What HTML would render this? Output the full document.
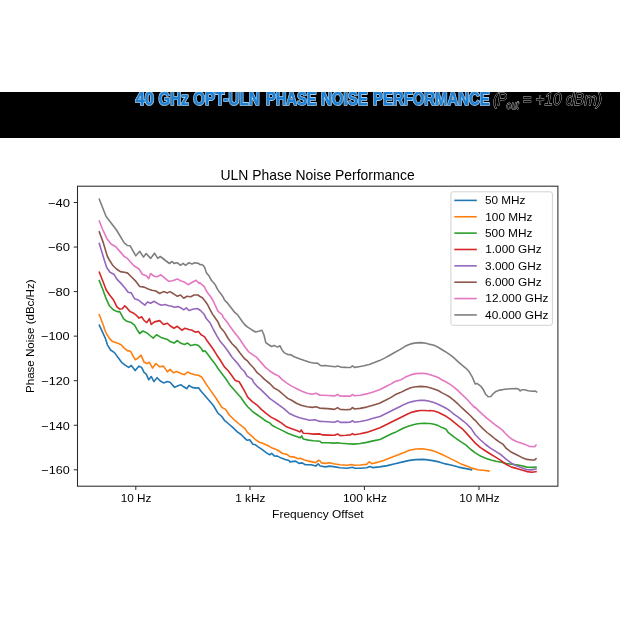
<!DOCTYPE html>
<html><head><meta charset="utf-8"><title>ULN Phase Noise Performance</title><style>
html,body{margin:0;padding:0;background:#fff;}
body{width:620px;height:620px;position:relative;overflow:hidden;font-family:"Liberation Sans",sans-serif;}
svg{position:absolute;left:0;top:0;display:block;will-change:transform;}
</style></head><body>
<svg width="620" height="620" viewBox="0 0 620 620">
<rect x="0" y="92" width="620" height="46" fill="#000"/>
<clipPath id="band"><rect x="0" y="92" width="620" height="46"/></clipPath>
<g clip-path="url(#band)" font-family="Liberation Sans">
<g font-weight="bold" font-size="17.6" fill="#dcebf8" stroke="#dcebf8" stroke-width="1.7" stroke-linejoin="round">
<text x="135.40" y="105.0" textLength="18.50" lengthAdjust="spacingAndGlyphs">40</text>
<text x="158.60" y="105.0" textLength="30.10" lengthAdjust="spacingAndGlyphs">GHz</text>
<text x="193.30" y="105.0" textLength="66.40" lengthAdjust="spacingAndGlyphs">OPT-ULN</text>
<text x="265.90" y="105.0" textLength="50.80" lengthAdjust="spacingAndGlyphs">PHASE</text>
<text x="320.90" y="105.0" textLength="47.00" lengthAdjust="spacingAndGlyphs">NOISE</text>
<text x="373.10" y="105.0" textLength="116.50" lengthAdjust="spacingAndGlyphs">PERFORMANCE</text>
</g>
<g font-weight="bold" font-size="17.6" fill="#1d7fd1" stroke="#1d7fd1" stroke-width="0.55" stroke-linejoin="round">
<text x="135.40" y="105.0" textLength="18.50" lengthAdjust="spacingAndGlyphs">40</text>
<text x="158.60" y="105.0" textLength="30.10" lengthAdjust="spacingAndGlyphs">GHz</text>
<text x="193.30" y="105.0" textLength="66.40" lengthAdjust="spacingAndGlyphs">OPT-ULN</text>
<text x="265.90" y="105.0" textLength="50.80" lengthAdjust="spacingAndGlyphs">PHASE</text>
<text x="320.90" y="105.0" textLength="47.00" lengthAdjust="spacingAndGlyphs">NOISE</text>
<text x="373.10" y="105.0" textLength="116.50" lengthAdjust="spacingAndGlyphs">PERFORMANCE</text>
</g>
<g font-style="italic" fill="#000" stroke="#c8c8c8" stroke-width="0.8" paint-order="stroke">
<text x="492.9" y="105.3" font-size="16.5" textLength="14" lengthAdjust="spacingAndGlyphs">(P</text>
<text x="506.6" y="109.0" font-size="10" textLength="12" lengthAdjust="spacingAndGlyphs">out</text>
<text x="522.5" y="105.3" font-size="16.5" textLength="79.5" lengthAdjust="spacingAndGlyphs">= +10 dBm)</text>
</g></g>
<g font-family="Liberation Sans" fill="#000">
<text id="title" x="220.50" y="179.80" font-size="14.30" textLength="194.20" lengthAdjust="spacingAndGlyphs">ULN Phase Noise Performance</text>
<g fill="none" stroke-width="1.60" stroke-linejoin="round" stroke-linecap="square">
<polyline stroke="#1f77b4" points="99.3,325.2 105.5,338.7 107.4,344.8 110.6,350.0 114.5,352.6 117.7,357.1 121.6,362.3 124.8,364.8 128.7,367.4 131.3,365.5 135.2,370.6 139.0,366.1 141.6,367.4 144.2,372.6 146.1,373.9 148.7,379.7 151.3,376.5 153.9,381.6 157.1,377.7 160.3,381.0 163.5,382.9 167.4,381.6 170.0,382.3 174.7,387.4 177.9,385.7 181.1,384.8 183.7,386.8 186.9,388.7 188.9,385.5 192.1,387.4 196.0,388.1 198.5,387.8 201.1,391.3 205.0,395.8 208.9,400.3 213.4,405.5 217.9,413.2 221.8,416.5 224.4,420.3 228.2,423.5 232.7,427.4 237.3,431.9 241.1,434.5 245.0,438.4 247.1,440.3 249.7,439.7 252.9,444.2 255.5,444.8 258.1,446.8 261.9,449.4 266.5,452.9 269.7,454.8 271.6,453.3 274.2,455.9 277.4,456.1 281.3,458.1 285.2,459.4 289.0,460.6 290.0,461.9 295.6,461.1 298.9,463.4 302.1,462.9 305.3,464.8 311.0,464.8 315.8,466.1 318.2,463.7 320.2,466.0 325.5,466.9 329.5,466.1 335.2,466.9 340.0,467.7 347.3,468.2 352.4,467.3 355.0,468.2 360.2,468.2 366.6,467.8 369.8,466.5 372.4,467.6 379.5,466.9 387.3,465.6 395.0,463.7 402.9,461.9 409.4,460.4 415.8,459.6 422.3,459.4 426.1,459.6 432.6,460.6 439.0,461.9 445.5,463.9 451.9,465.2 458.4,467.1 464.8,468.4 471.5,469.7"/>
<polyline stroke="#ff7f0e" points="99.3,314.8 103.5,325.8 104.8,330.0 106.8,334.5 108.1,336.1 109.4,338.4 112.6,341.6 117.1,342.9 121.0,344.8 124.2,348.1 127.4,350.6 130.6,351.3 132.6,355.2 135.2,359.7 137.7,358.4 141.0,355.2 144.2,362.3 146.8,363.5 149.4,362.3 152.6,368.1 155.8,363.5 159.7,366.8 163.5,366.1 167.4,371.9 170.0,369.4 173.4,372.7 176.6,371.5 181.1,373.4 184.4,374.7 187.6,372.1 190.8,373.4 194.7,374.7 198.5,375.3 201.8,377.3 204.4,381.1 206.3,384.4 212.1,392.6 216.6,399.0 221.8,407.4 225.6,409.4 229.5,415.2 233.4,419.0 238.5,423.5 245.0,428.7 247.7,432.6 251.6,435.8 255.5,439.7 259.4,442.3 263.2,443.5 267.7,445.5 272.3,448.1 277.4,450.0 282.6,453.5 286.5,454.2 290.0,456.7 294.0,456.9 298.1,458.7 300.5,458.3 304.5,459.9 308.5,461.1 312.6,461.9 315.8,462.6 318.2,460.3 320.2,461.1 321.5,462.9 325.5,463.4 329.5,462.7 333.5,463.7 340.0,464.8 347.3,465.3 351.8,464.6 354.4,465.3 360.2,465.0 366.6,464.4 369.2,461.8 371.8,463.7 376.9,462.4 383.4,460.5 389.8,457.9 395.0,456.0 402.9,452.9 409.4,450.3 415.8,449.0 422.3,448.8 428.7,449.7 435.2,451.6 441.6,454.2 448.1,457.4 454.5,460.6 461.0,463.9 466.1,465.8 472.7,468.4 477.9,469.7 483.1,470.3 488.9,471.0"/>
<polyline stroke="#2ca02c" points="99.3,280.6 102.9,289.7 106.1,298.7 109.4,305.8 113.2,309.7 117.1,311.6 119.7,311.6 123.5,318.7 126.8,321.3 131.3,322.6 134.5,325.2 137.1,329.7 139.7,333.5 142.9,331.0 146.8,332.9 150.0,335.5 153.2,338.1 156.5,334.8 161.0,337.4 167.4,339.4 170.0,341.6 174.0,343.1 177.3,340.5 180.5,343.1 184.4,344.4 187.6,343.1 190.8,345.6 195.3,344.4 198.5,345.6 201.1,348.2 203.1,351.5 205.0,350.8 207.6,354.0 210.8,358.5 214.0,362.4 217.9,368.2 221.8,373.4 225.6,378.5 229.5,384.4 236.0,391.9 241.1,397.7 245.0,403.5 247.7,406.8 252.3,411.3 256.8,414.5 261.3,417.7 265.8,421.0 269.7,422.9 272.3,425.5 277.4,428.1 282.6,430.6 287.7,433.2 292.9,435.2 298.1,437.1 300.6,437.7 301.7,435.8 303.2,439.0 308.4,440.1 313.5,440.7 320.0,441.2 321.5,442.7 327.9,442.8 334.4,443.1 337.6,442.8 340.8,443.3 347.3,443.7 353.7,444.1 360.2,443.5 366.6,442.4 373.1,440.9 380.0,439.5 384.0,437.5 388.1,435.5 392.1,433.5 396.1,431.9 400.2,429.8 404.2,427.8 408.2,426.2 412.3,425.0 416.3,424.0 420.3,423.5 424.4,423.4 428.4,423.5 430.0,423.5 434.0,424.2 438.1,425.6 442.1,427.6 446.1,429.2 448.1,432.3 454.5,437.4 461.0,441.9 466.1,445.2 470.2,449.0 475.3,452.9 480.5,456.1 485.6,458.3 490.8,460.0 496.0,461.3 501.1,462.3 506.3,463.5 511.5,464.3 516.6,464.9 521.8,465.8 526.9,467.1 532.1,467.4 536.0,467.1"/>
<polyline stroke="#d62728" points="99.3,272.3 102.9,281.3 106.1,289.7 109.4,294.8 113.2,299.4 117.1,307.1 119.7,309.0 122.3,308.8 124.8,305.8 127.4,308.4 130.0,311.6 133.2,312.9 135.8,314.8 139.0,318.1 141.6,316.8 144.2,320.6 146.8,322.6 149.4,318.7 151.3,324.5 154.5,321.9 159.7,320.6 163.5,324.5 167.4,323.2 170.0,325.8 174.0,328.2 177.3,326.3 181.8,330.2 185.0,328.2 188.9,329.5 192.1,330.2 195.3,332.1 198.5,331.5 201.1,334.7 204.4,336.6 206.9,340.5 210.2,345.0 213.4,349.5 216.6,354.7 220.5,360.5 224.4,366.9 228.2,370.8 232.1,376.0 235.3,380.5 239.2,381.8 241.1,385.0 242.4,387.4 245.0,391.9 247.7,397.1 252.3,401.6 256.8,404.8 261.3,409.4 265.8,413.2 271.0,417.1 276.1,419.7 281.3,422.9 286.5,426.8 291.6,428.7 296.8,430.6 300.0,431.9 301.3,430.0 303.2,433.2 308.4,433.5 313.5,434.1 320.0,433.9 322.7,434.9 327.9,435.1 334.4,435.3 337.6,434.0 340.2,435.6 346.0,435.3 350.5,434.9 352.4,433.6 354.4,434.7 360.2,433.8 366.6,432.4 373.1,430.2 380.0,427.8 384.0,425.8 388.1,423.8 392.1,421.8 396.1,419.8 400.2,417.7 404.2,415.7 408.2,413.7 412.3,412.1 416.3,411.1 420.3,410.5 424.4,410.5 428.4,410.7 430.0,410.5 434.0,411.0 438.1,412.3 442.1,414.3 446.1,416.3 450.2,419.1 454.2,422.3 458.2,425.6 462.3,428.8 466.1,432.9 470.2,437.4 475.3,443.2 480.5,447.7 485.6,451.0 490.8,454.2 496.0,457.4 501.1,460.6 506.3,464.5 511.5,467.1 516.6,468.4 521.8,469.9 526.9,471.6 532.1,472.3 536.0,471.6"/>
<polyline stroke="#9467bd" points="99.3,243.5 104.2,259.7 106.8,267.7 110.0,272.3 113.9,274.2 117.1,279.4 120.3,282.6 124.8,287.7 128.1,292.3 131.3,292.9 134.5,298.7 138.4,300.0 141.6,302.6 144.8,305.2 147.4,301.9 150.6,303.2 153.9,301.3 158.4,303.9 161.6,305.2 164.8,304.5 168.7,305.8 170.8,306.0 174.7,307.3 177.9,306.6 181.1,307.9 183.7,309.8 186.3,307.9 188.9,310.5 192.7,309.2 197.3,308.5 200.5,310.5 203.7,313.7 206.3,318.5 210.2,323.1 213.4,329.5 216.6,335.3 220.5,341.8 224.4,346.3 228.2,351.5 232.1,357.3 237.3,363.1 241.1,368.2 244.4,371.5 247.1,376.1 252.3,379.4 253.5,382.3 256.8,386.1 260.6,389.4 265.2,393.9 269.7,398.4 274.2,401.6 278.7,404.8 283.9,408.7 289.0,413.2 294.2,415.8 299.4,417.7 304.5,419.0 309.7,420.3 314.8,419.7 320.0,421.4 322.7,421.5 327.9,421.8 334.4,422.2 337.6,420.9 340.2,422.4 346.0,422.4 350.5,422.2 352.4,420.7 354.4,422.2 360.2,421.5 366.6,420.2 373.1,418.3 380.0,416.5 384.0,414.5 388.1,412.5 392.1,410.5 396.1,408.5 400.2,406.5 404.2,404.4 408.2,402.8 412.3,401.6 416.3,400.8 420.3,400.4 424.4,400.4 428.4,401.0 430.0,401.4 434.0,402.6 438.1,404.2 442.1,406.2 446.1,408.2 450.2,411.0 454.2,414.3 458.2,417.1 462.3,420.3 466.3,423.5 470.3,427.6 471.9,429.6 475.3,434.8 480.5,440.0 485.6,444.5 490.8,448.4 496.0,451.6 501.1,454.8 506.3,459.4 511.5,463.2 516.6,465.8 521.8,467.7 526.9,469.7 532.1,469.9 536.0,469.0"/>
<polyline stroke="#8c564b" points="99.3,231.9 102.9,241.6 107.4,256.5 109.4,260.0 112.6,265.2 116.5,269.0 120.3,271.6 124.2,272.3 127.4,272.9 131.3,276.8 135.2,280.6 139.7,286.5 144.2,287.1 148.1,289.0 151.9,290.3 155.8,291.0 159.7,293.5 163.5,291.6 167.4,292.9 170.0,291.6 173.4,293.7 177.3,296.3 180.5,295.0 183.7,298.2 186.9,296.3 190.8,296.7 194.0,295.0 197.9,295.0 200.0,296.5 202.4,297.7 204.0,299.8 205.6,301.8 207.3,304.2 210.2,309.8 212.7,314.4 214.7,317.3 217.9,321.8 220.5,327.6 224.4,332.1 228.2,338.5 232.1,343.7 236.0,347.6 239.8,352.7 244.4,358.5 247.1,360.6 250.3,364.5 253.5,367.7 256.8,372.3 260.6,375.5 264.5,379.4 269.7,383.5 274.2,388.1 278.7,390.6 283.2,394.5 287.7,398.4 291.6,400.3 296.8,403.5 301.9,405.5 307.1,406.8 312.3,407.4 316.1,406.8 320.0,408.3 322.7,408.4 327.9,408.6 334.4,409.4 337.6,407.7 340.2,409.4 346.0,409.7 350.5,409.4 352.4,407.5 354.4,409.0 360.2,408.4 366.6,407.1 373.1,405.2 379.5,403.2 386.0,400.0 391.1,397.4 395.0,394.8 400.3,392.6 405.5,390.0 410.6,387.8 415.8,386.8 421.0,386.4 426.1,386.8 430.0,387.7 434.0,388.9 438.1,390.5 442.1,392.9 446.1,394.9 450.2,397.3 454.2,400.6 458.2,404.2 462.3,408.2 466.3,411.9 470.3,415.5 474.4,419.9 475.0,420.0 479.0,424.8 483.1,428.9 487.1,432.5 491.1,435.7 495.2,439.0 499.2,441.8 503.2,444.4 506.3,448.4 511.5,452.3 516.6,454.8 521.8,457.4 526.9,459.4 532.1,460.0 534.7,460.0 536.0,458.7"/>
<polyline stroke="#e377c2" points="99.3,221.0 102.9,230.0 106.8,238.4 111.3,244.2 115.8,246.8 120.3,251.9 124.2,256.5 127.4,258.4 128.7,260.0 133.9,265.8 139.0,269.0 142.3,274.2 146.8,276.1 148.7,278.7 150.6,273.5 153.9,276.1 157.1,276.8 161.0,274.8 164.8,278.1 168.7,281.3 172.7,280.8 177.3,278.9 180.5,280.8 184.4,282.1 188.2,284.7 191.5,282.7 196.0,280.2 199.2,283.4 200.0,282.8 201.6,284.4 203.2,285.6 204.4,286.9 205.6,289.3 207.3,292.5 208.9,294.5 210.5,296.5 212.1,299.0 213.7,301.8 214.9,304.6 217.9,311.1 222.4,315.0 223.1,317.3 226.9,321.8 230.8,327.6 235.3,333.4 239.8,339.2 244.4,346.3 248.4,351.6 252.9,354.8 256.8,357.4 260.6,361.9 265.2,367.1 269.7,371.0 274.8,374.2 278.7,376.1 281.9,379.4 286.5,382.9 291.6,386.1 296.8,388.7 301.9,391.3 307.1,393.2 312.3,394.3 316.1,393.2 320.0,395.2 322.7,395.2 327.9,395.5 334.4,395.9 337.6,394.5 340.2,396.1 346.0,396.1 350.5,396.1 352.4,394.5 354.4,395.7 360.2,395.2 366.6,393.9 373.1,391.9 379.5,389.7 386.0,386.5 391.1,383.9 395.0,381.5 400.3,380.1 405.5,377.1 410.6,374.9 415.8,373.6 421.0,373.2 426.1,373.6 430.0,374.7 434.0,375.9 438.1,377.5 442.1,380.0 446.1,382.0 450.2,384.4 454.2,387.3 458.2,390.9 462.3,394.9 466.3,398.5 470.3,403.0 474.4,407.4 475.0,407.1 479.0,411.1 483.1,414.8 487.1,418.4 491.1,421.6 495.2,424.8 499.2,427.7 502.4,430.1 505.2,433.3 508.9,436.9 512.9,439.8 516.9,441.8 521.0,443.0 525.0,444.4 529.5,446.5 534.7,446.7 536.0,445.2"/>
<polyline stroke="#7f7f7f" points="99.3,199.3 106.1,216.5 116.5,230.0 124.2,242.9 127.4,245.5 130.0,245.7 135.8,255.8 139.7,251.3 143.5,257.1 146.1,253.5 150.6,258.4 154.5,253.2 157.7,258.4 160.3,256.5 169.4,263.5 172.0,261.5 174.0,263.4 177.3,262.7 180.5,265.3 183.1,263.4 185.6,265.3 188.9,262.7 192.1,264.0 194.7,262.7 198.5,263.4 200.0,264.7 202.0,264.5 203.6,265.9 205.2,268.7 206.0,271.9 207.3,274.0 208.9,275.6 210.1,278.0 211.7,280.8 214.1,283.2 215.7,285.6 217.3,288.9 219.4,292.1 221.4,294.5 223.0,296.9 224.2,299.4 225.8,301.4 227.8,303.4 229.0,305.0 234.7,312.4 237.3,314.4 242.4,321.8 245.0,325.0 247.7,327.1 251.6,329.7 255.5,332.0 258.7,331.2 261.9,330.3 263.9,334.8 265.8,342.6 268.4,344.5 271.6,346.5 274.2,345.4 277.4,347.1 280.0,345.8 281.9,349.7 284.5,352.9 288.4,354.8 290.3,354.5 294.2,356.8 299.4,358.7 304.5,360.6 309.7,362.3 314.8,363.2 317.4,363.0 320.0,365.2 321.5,365.8 325.3,365.5 330.5,366.2 335.6,366.8 337.6,366.1 340.8,367.1 346.0,367.4 350.5,367.5 352.4,365.8 354.4,367.4 358.9,366.7 364.0,365.8 369.2,364.5 374.4,362.6 379.5,360.6 384.7,358.1 389.8,355.2 395.0,352.3 400.3,349.4 405.5,346.1 410.6,343.9 415.8,342.9 421.0,342.6 426.1,343.3 430.0,344.4 434.0,345.2 438.1,347.3 442.1,349.7 446.1,352.1 450.2,354.9 454.2,358.1 458.2,361.8 462.3,365.4 466.3,368.6 469.5,372.3 471.9,376.3 474.0,381.1 475.2,384.0 476.8,383.5 478.4,384.4 480.0,385.6 481.1,386.5 483.7,390.3 485.6,394.2 488.2,396.8 490.8,396.5 492.7,394.2 496.0,391.4 499.8,390.1 505.0,389.3 510.2,388.8 516.6,388.6 518.5,389.0 520.2,391.0 521.8,389.7 524.4,389.7 528.2,390.7 532.1,391.2 535.3,391.1 536.6,391.9"/>
</g>
<rect x="77.50" y="186.20" width="480.40" height="300.00" fill="none" stroke="#2a2a2a" stroke-width="1.05"/>
<path d="M135.80 486.20v3.8 M250.00 486.20v3.8 M364.40 486.20v3.8 M479.00 486.20v3.8 M77.50 202.50h-3.8 M77.50 247.05h-3.8 M77.50 291.60h-3.8 M77.50 336.15h-3.8 M77.50 380.70h-3.8 M77.50 425.25h-3.8 M77.50 469.80h-3.8" stroke="#2a2a2a" stroke-width="1.0" fill="none"/>
<text id="xt_10_Hz" x="120.70" y="501.80" font-size="11.40" textLength="30.70" lengthAdjust="spacingAndGlyphs">10 Hz</text>
<text id="xt_1_kHz" x="235.20" y="501.80" font-size="11.40" textLength="30.10" lengthAdjust="spacingAndGlyphs">1 kHz</text>
<text id="xt_100_kHz" x="342.90" y="501.80" font-size="11.40" textLength="44.00" lengthAdjust="spacingAndGlyphs">100 kHz</text>
<text id="xt_10_MHz" x="459.20" y="501.80" font-size="11.40" textLength="40.30" lengthAdjust="spacingAndGlyphs">10 MHz</text>
<text id="yt_-40" x="48.00" y="206.80" font-size="11.40" textLength="22.10" lengthAdjust="spacingAndGlyphs">−40</text>
<text id="yt_-60" x="48.00" y="251.35" font-size="11.40" textLength="22.10" lengthAdjust="spacingAndGlyphs">−60</text>
<text id="yt_-80" x="47.90" y="295.90" font-size="11.40" textLength="22.00" lengthAdjust="spacingAndGlyphs">−80</text>
<text id="yt_-100" x="41.10" y="340.45" font-size="11.40" textLength="28.60" lengthAdjust="spacingAndGlyphs">−100</text>
<text id="yt_-120" x="41.30" y="385.00" font-size="11.40" textLength="28.40" lengthAdjust="spacingAndGlyphs">−120</text>
<text id="yt_-140" x="41.30" y="429.55" font-size="11.40" textLength="28.40" lengthAdjust="spacingAndGlyphs">−140</text>
<text id="yt_-160" x="41.30" y="474.10" font-size="11.40" textLength="28.40" lengthAdjust="spacingAndGlyphs">−160</text>
<text id="xlabel" x="272.10" y="517.80" font-size="11.40" textLength="91.60" lengthAdjust="spacingAndGlyphs">Frequency Offset</text>
<text transform="translate(33.6,336.2) rotate(-90)" x="0" y="0" font-size="11.40" text-anchor="middle" textLength="113.5" lengthAdjust="spacingAndGlyphs">Phase Noise (dBc/Hz)</text>
<rect x="450.9" y="191.8" width="101.5" height="133.5" rx="2.2" fill="#fff" fill-opacity="0.8" stroke="#d2d2d2" stroke-width="1"/>
<line x1="454.3" x2="476.8" y1="200.40" y2="200.40" stroke="#1f77b4" stroke-width="1.60"/>
<text id="lg_0" x="484.90" y="204.30" font-size="11.40" textLength="40.60" lengthAdjust="spacingAndGlyphs">50 MHz</text>
<line x1="454.3" x2="476.8" y1="216.76" y2="216.76" stroke="#ff7f0e" stroke-width="1.60"/>
<text id="lg_1" x="485.30" y="220.66" font-size="11.40" textLength="47.20" lengthAdjust="spacingAndGlyphs">100 MHz</text>
<line x1="454.3" x2="476.8" y1="233.12" y2="233.12" stroke="#2ca02c" stroke-width="1.60"/>
<text id="lg_2" x="485.00" y="237.02" font-size="11.40" textLength="47.50" lengthAdjust="spacingAndGlyphs">500 MHz</text>
<line x1="454.3" x2="476.8" y1="249.48" y2="249.48" stroke="#d62728" stroke-width="1.60"/>
<text id="lg_3" x="485.30" y="253.38" font-size="11.40" textLength="56.30" lengthAdjust="spacingAndGlyphs">1.000 GHz</text>
<line x1="454.3" x2="476.8" y1="265.84" y2="265.84" stroke="#9467bd" stroke-width="1.60"/>
<text id="lg_4" x="485.10" y="269.74" font-size="11.40" textLength="56.50" lengthAdjust="spacingAndGlyphs">3.000 GHz</text>
<line x1="454.3" x2="476.8" y1="282.20" y2="282.20" stroke="#8c564b" stroke-width="1.60"/>
<text id="lg_5" x="485.10" y="286.10" font-size="11.40" textLength="56.50" lengthAdjust="spacingAndGlyphs">6.000 GHz</text>
<line x1="454.3" x2="476.8" y1="298.56" y2="298.56" stroke="#e377c2" stroke-width="1.60"/>
<text id="lg_6" x="485.30" y="302.46" font-size="11.40" textLength="63.20" lengthAdjust="spacingAndGlyphs">12.000 GHz</text>
<line x1="454.3" x2="476.8" y1="314.92" y2="314.92" stroke="#7f7f7f" stroke-width="1.60"/>
<text id="lg_7" x="485.10" y="318.82" font-size="11.40" textLength="63.40" lengthAdjust="spacingAndGlyphs">40.000 GHz</text>
</g>
</svg>
</body></html>
